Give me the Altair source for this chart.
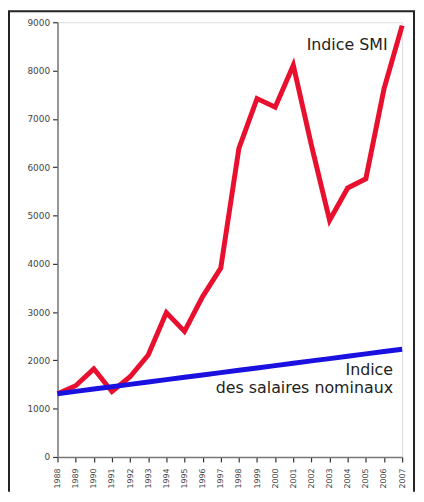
import altair as alt
import pandas as pd

years = list(range(1988, 2008))
smi = [1310, 1475, 1825, 1355, 1660, 2110, 2990, 2600, 3320, 3910,
       6390, 7420, 7240, 8110, 6450, 4900, 5570, 5760, 7620, 8930]
salaires = [1310, 1358, 1407, 1455, 1504, 1552, 1601, 1649, 1698, 1746,
            1795, 1843, 1892, 1940, 1989, 2037, 2086, 2134, 2183, 2231]

ann_text = ["Indice SMI", "Indice", "des salaires nominaux"]
ann_x = [2006.2, 2006.5, 2006.5]
ann_y = [8530, 1790, 1435]

df_smi = pd.DataFrame({"year": years, "value": smi})
df_sal = pd.DataFrame({"year": years, "value": salaires})
df_ann = pd.DataFrame({"t": ann_text, "x": ann_x, "y": ann_y})

xs = alt.Scale(domain=[1988, 2007], nice=False, zero=False)
ys = alt.Scale(domain=[0, 9000], nice=False)

xax = alt.Axis(values=years, format="d", labelAngle=-90, labelAlign="right",
               labelBaseline="middle", labelFontSize=8, labelFont="DejaVu Sans",
               labelColor="#444444", tickColor="#333333", tickSize=5, tickWidth=1.2,
               domainColor="#777777", domainWidth=1.5, grid=False, title=None,
               labelPadding=6, labelOverlap=False, labelFlush=False)
yax = alt.Axis(values=list(range(0, 10000, 1000)), format="d", labelFontSize=9,
               labelFont="DejaVu Sans", labelColor="#444444", tickColor="#333333",
               tickSize=5, tickWidth=1.2, domainColor="#777777", domainWidth=1.5,
               grid=False, title=None, labelPadding=3, labelFlush=False)

X = lambda f: alt.X(f, scale=xs, axis=xax)
Y = lambda f: alt.Y(f, scale=ys, axis=yax)

red = alt.Chart(df_smi).mark_line(color="#e8102e", strokeWidth=5).encode(
    x=X("year:Q"), y=Y("value:Q"),
)
blue = alt.Chart(df_sal).mark_line(color="#1a10e0", strokeWidth=5).encode(
    x=X("year:Q"), y=Y("value:Q"),
)
text = alt.Chart(df_ann).mark_text(align="right", baseline="middle", fontSize=16,
                                   font="DejaVu Sans", color="#222222").encode(
    x=X("x:Q"), y=Y("y:Q"), text="t:N",
)
one = pd.DataFrame({"a": [0]})
left_b = alt.Chart(one).mark_rule(color="#222222", strokeWidth=2, clip=False).encode(
    x=alt.value(-49), y=alt.value(-11), y2=alt.value(474))
top_b = alt.Chart(one).mark_rule(color="#222222", strokeWidth=2, clip=False).encode(
    x=alt.value(-50), x2=alt.value(361), y=alt.value(-11))
right_b = alt.Chart(one).mark_rule(color="#222222", strokeWidth=2, clip=False).encode(
    x=alt.value(360), y=alt.value(-11), y2=alt.value(474))

chart = alt.layer(left_b, top_b, right_b, red, blue, text).properties(
    width=348, height=439,
    autosize=alt.AutoSizeParams(type="none"),
    padding={"left": 50, "top": 12, "right": 14, "bottom": 35},
).configure_view(stroke="#777777", strokeWidth=1.5).configure(background="white")

chart.save("out.html", embed_options={"renderer": "svg", "actions": False})
